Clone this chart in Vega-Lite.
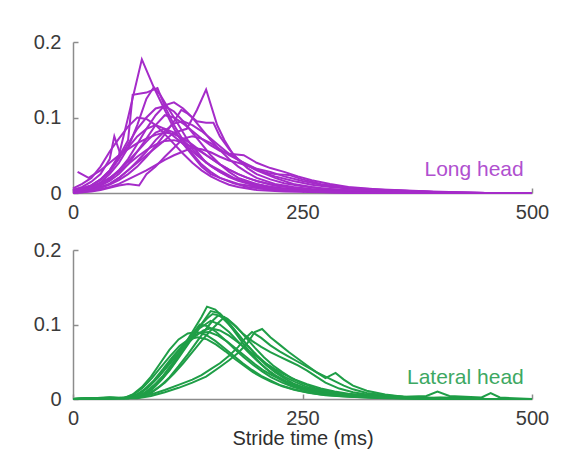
{
"$schema":"https://vega.github.io/schema/vega-lite/v6.json",
"padding":{"left":33,"top":32,"right":10,"bottom":10},
"spacing":18,
"config":{"view":{"stroke":null},"axis":{"grid":false,"domainColor":"#8c8c8c","tickColor":"#8c8c8c","domainWidth":1.5,"tickWidth":1.5,"labelColor":"#3a3a3a","labelFont":"Liberation Sans","labelFontSize":20,"tickSize":-5,"labelFlush":false,"labelOverlap":false,"titleFont":"Liberation Sans","titleFontSize":20,"titleFontWeight":"normal","titleColor":"#2e2e2e"},"axisY":{"labelPadding":17},"axisX":{"labelPadding":14}},
"datasets":{
"top":[
{"s":1,"x":0,"y":0.004},{"s":1,"x":10,"y":0.006},{"s":1,"x":20,"y":0.01},{"s":1,"x":30,"y":0.018},{"s":1,"x":40,"y":0.03},{"s":1,"x":50,"y":0.05},{"s":1,"x":60,"y":0.1},{"s":1,"x":75,"y":0.177},{"s":1,"x":88,"y":0.14},{"s":1,"x":100,"y":0.11},{"s":1,"x":110,"y":0.085},{"s":1,"x":120,"y":0.065},{"s":1,"x":130,"y":0.05},{"s":1,"x":140,"y":0.035},{"s":1,"x":150,"y":0.025},{"s":1,"x":160,"y":0.02},{"s":1,"x":180,"y":0.012},{"s":1,"x":200,"y":0.008},{"s":1,"x":220,"y":0.005},{"s":1,"x":250,"y":0.003},{"s":1,"x":280,"y":0.002},{"s":1,"x":320,"y":0.001},{"s":1,"x":360,"y":0},{"s":1,"x":500,"y":0},
{"s":2,"x":0,"y":0},{"s":2,"x":10,"y":0.002},{"s":2,"x":20,"y":0.004},{"s":2,"x":30,"y":0.008},{"s":2,"x":40,"y":0.012},{"s":2,"x":50,"y":0.02},{"s":2,"x":60,"y":0.03},{"s":2,"x":70,"y":0.04},{"s":2,"x":80,"y":0.05},{"s":2,"x":90,"y":0.06},{"s":2,"x":100,"y":0.07},{"s":2,"x":110,"y":0.08},{"s":2,"x":124,"y":0.085},{"s":2,"x":135,"y":0.11},{"s":2,"x":145,"y":0.137},{"s":2,"x":157,"y":0.09},{"s":2,"x":165,"y":0.07},{"s":2,"x":175,"y":0.05},{"s":2,"x":185,"y":0.04},{"s":2,"x":200,"y":0.03},{"s":2,"x":220,"y":0.02},{"s":2,"x":240,"y":0.012},{"s":2,"x":260,"y":0.008},{"s":2,"x":280,"y":0.005},{"s":2,"x":300,"y":0.003},{"s":2,"x":330,"y":0.002},{"s":2,"x":360,"y":0.001},{"s":2,"x":400,"y":0},{"s":2,"x":500,"y":0},
{"s":3,"x":0,"y":0.002},{"s":3,"x":10,"y":0.004},{"s":3,"x":20,"y":0.008},{"s":3,"x":30,"y":0.014},{"s":3,"x":40,"y":0.025},{"s":3,"x":50,"y":0.04},{"s":3,"x":60,"y":0.06},{"s":3,"x":70,"y":0.09},{"s":3,"x":80,"y":0.125},{"s":3,"x":88,"y":0.14},{"s":3,"x":95,"y":0.13},{"s":3,"x":105,"y":0.11},{"s":3,"x":115,"y":0.09},{"s":3,"x":125,"y":0.07},{"s":3,"x":135,"y":0.055},{"s":3,"x":145,"y":0.04},{"s":3,"x":160,"y":0.03},{"s":3,"x":175,"y":0.02},{"s":3,"x":190,"y":0.014},{"s":3,"x":210,"y":0.009},{"s":3,"x":230,"y":0.006},{"s":3,"x":260,"y":0.004},{"s":3,"x":300,"y":0.002},{"s":3,"x":350,"y":0.001},{"s":3,"x":400,"y":0},{"s":3,"x":500,"y":0},
{"s":4,"x":0,"y":0.001},{"s":4,"x":10,"y":0.003},{"s":4,"x":20,"y":0.006},{"s":4,"x":30,"y":0.01},{"s":4,"x":40,"y":0.018},{"s":4,"x":50,"y":0.03},{"s":4,"x":60,"y":0.045},{"s":4,"x":70,"y":0.065},{"s":4,"x":80,"y":0.085},{"s":4,"x":90,"y":0.103},{"s":4,"x":100,"y":0.116},{"s":4,"x":110,"y":0.12},{"s":4,"x":120,"y":0.112},{"s":4,"x":130,"y":0.1},{"s":4,"x":140,"y":0.085},{"s":4,"x":150,"y":0.07},{"s":4,"x":160,"y":0.057},{"s":4,"x":170,"y":0.045},{"s":4,"x":180,"y":0.035},{"s":4,"x":190,"y":0.027},{"s":4,"x":200,"y":0.02},{"s":4,"x":220,"y":0.012},{"s":4,"x":240,"y":0.008},{"s":4,"x":260,"y":0.005},{"s":4,"x":290,"y":0.003},{"s":4,"x":330,"y":0.001},{"s":4,"x":400,"y":0},{"s":4,"x":500,"y":0},
{"s":5,"x":0,"y":0.003},{"s":5,"x":10,"y":0.005},{"s":5,"x":20,"y":0.01},{"s":5,"x":30,"y":0.017},{"s":5,"x":40,"y":0.028},{"s":5,"x":50,"y":0.045},{"s":5,"x":60,"y":0.065},{"s":5,"x":70,"y":0.085},{"s":5,"x":80,"y":0.1},{"s":5,"x":90,"y":0.112},{"s":5,"x":100,"y":0.115},{"s":5,"x":110,"y":0.108},{"s":5,"x":120,"y":0.095},{"s":5,"x":130,"y":0.08},{"s":5,"x":140,"y":0.065},{"s":5,"x":150,"y":0.05},{"s":5,"x":160,"y":0.038},{"s":5,"x":170,"y":0.028},{"s":5,"x":180,"y":0.02},{"s":5,"x":200,"y":0.012},{"s":5,"x":220,"y":0.007},{"s":5,"x":240,"y":0.004},{"s":5,"x":270,"y":0.002},{"s":5,"x":300,"y":0.001},{"s":5,"x":350,"y":0},{"s":5,"x":500,"y":0},
{"s":6,"x":0,"y":0.002},{"s":6,"x":10,"y":0.003},{"s":6,"x":20,"y":0.006},{"s":6,"x":30,"y":0.01},{"s":6,"x":40,"y":0.016},{"s":6,"x":50,"y":0.025},{"s":6,"x":60,"y":0.038},{"s":6,"x":70,"y":0.055},{"s":6,"x":80,"y":0.072},{"s":6,"x":90,"y":0.09},{"s":6,"x":100,"y":0.103},{"s":6,"x":110,"y":0.1},{"s":6,"x":120,"y":0.092},{"s":6,"x":130,"y":0.082},{"s":6,"x":140,"y":0.072},{"s":6,"x":150,"y":0.063},{"s":6,"x":160,"y":0.056},{"s":6,"x":170,"y":0.052},{"s":6,"x":186,"y":0.05},{"s":6,"x":200,"y":0.04},{"s":6,"x":215,"y":0.033},{"s":6,"x":230,"y":0.028},{"s":6,"x":245,"y":0.022},{"s":6,"x":260,"y":0.017},{"s":6,"x":280,"y":0.012},{"s":6,"x":300,"y":0.008},{"s":6,"x":320,"y":0.006},{"s":6,"x":340,"y":0.004},{"s":6,"x":360,"y":0.003},{"s":6,"x":380,"y":0.002},{"s":6,"x":400,"y":0.001},{"s":6,"x":450,"y":0},{"s":6,"x":500,"y":0},
{"s":7,"x":0,"y":0.001},{"s":7,"x":10,"y":0.002},{"s":7,"x":20,"y":0.004},{"s":7,"x":30,"y":0.007},{"s":7,"x":40,"y":0.012},{"s":7,"x":50,"y":0.02},{"s":7,"x":60,"y":0.03},{"s":7,"x":70,"y":0.042},{"s":7,"x":80,"y":0.055},{"s":7,"x":90,"y":0.07},{"s":7,"x":100,"y":0.082},{"s":7,"x":110,"y":0.092},{"s":7,"x":120,"y":0.095},{"s":7,"x":130,"y":0.09},{"s":7,"x":140,"y":0.082},{"s":7,"x":150,"y":0.072},{"s":7,"x":160,"y":0.062},{"s":7,"x":170,"y":0.052},{"s":7,"x":180,"y":0.044},{"s":7,"x":190,"y":0.037},{"s":7,"x":200,"y":0.031},{"s":7,"x":210,"y":0.026},{"s":7,"x":220,"y":0.022},{"s":7,"x":240,"y":0.016},{"s":7,"x":260,"y":0.011},{"s":7,"x":280,"y":0.008},{"s":7,"x":300,"y":0.006},{"s":7,"x":320,"y":0.004},{"s":7,"x":350,"y":0.003},{"s":7,"x":380,"y":0.002},{"s":7,"x":400,"y":0.001},{"s":7,"x":450,"y":0},{"s":7,"x":500,"y":0},
{"s":8,"x":0,"y":0.004},{"s":8,"x":10,"y":0.008},{"s":8,"x":20,"y":0.015},{"s":8,"x":30,"y":0.025},{"s":8,"x":40,"y":0.045},{"s":8,"x":45,"y":0.075},{"s":8,"x":52,"y":0.05},{"s":8,"x":60,"y":0.06},{"s":8,"x":70,"y":0.075},{"s":8,"x":80,"y":0.085},{"s":8,"x":90,"y":0.09},{"s":8,"x":100,"y":0.085},{"s":8,"x":110,"y":0.075},{"s":8,"x":120,"y":0.065},{"s":8,"x":130,"y":0.055},{"s":8,"x":140,"y":0.045},{"s":8,"x":150,"y":0.036},{"s":8,"x":160,"y":0.028},{"s":8,"x":170,"y":0.022},{"s":8,"x":180,"y":0.017},{"s":8,"x":200,"y":0.01},{"s":8,"x":220,"y":0.006},{"s":8,"x":250,"y":0.003},{"s":8,"x":280,"y":0.002},{"s":8,"x":320,"y":0.001},{"s":8,"x":360,"y":0},{"s":8,"x":500,"y":0},
{"s":9,"x":5,"y":0.028},{"s":9,"x":17,"y":0.02},{"s":9,"x":30,"y":0.03},{"s":9,"x":40,"y":0.04},{"s":9,"x":50,"y":0.05},{"s":9,"x":60,"y":0.058},{"s":9,"x":70,"y":0.066},{"s":9,"x":80,"y":0.072},{"s":9,"x":90,"y":0.077},{"s":9,"x":100,"y":0.08},{"s":9,"x":110,"y":0.078},{"s":9,"x":120,"y":0.072},{"s":9,"x":130,"y":0.064},{"s":9,"x":140,"y":0.055},{"s":9,"x":150,"y":0.046},{"s":9,"x":160,"y":0.038},{"s":9,"x":170,"y":0.031},{"s":9,"x":180,"y":0.025},{"s":9,"x":190,"y":0.02},{"s":9,"x":200,"y":0.016},{"s":9,"x":220,"y":0.01},{"s":9,"x":240,"y":0.007},{"s":9,"x":260,"y":0.005},{"s":9,"x":280,"y":0.003},{"s":9,"x":300,"y":0.002},{"s":9,"x":340,"y":0.001},{"s":9,"x":400,"y":0},{"s":9,"x":500,"y":0},
{"s":10,"x":0,"y":0.006},{"s":10,"x":10,"y":0.012},{"s":10,"x":20,"y":0.02},{"s":10,"x":30,"y":0.035},{"s":10,"x":40,"y":0.055},{"s":10,"x":50,"y":0.072},{"s":10,"x":60,"y":0.088},{"s":10,"x":70,"y":0.1},{"s":10,"x":80,"y":0.098},{"s":10,"x":90,"y":0.09},{"s":10,"x":100,"y":0.078},{"s":10,"x":110,"y":0.065},{"s":10,"x":120,"y":0.052},{"s":10,"x":130,"y":0.04},{"s":10,"x":140,"y":0.03},{"s":10,"x":150,"y":0.022},{"s":10,"x":160,"y":0.016},{"s":10,"x":170,"y":0.011},{"s":10,"x":180,"y":0.008},{"s":10,"x":200,"y":0.004},{"s":10,"x":230,"y":0.002},{"s":10,"x":270,"y":0.001},{"s":10,"x":300,"y":0},{"s":10,"x":500,"y":0},
{"s":11,"x":0,"y":0},{"s":11,"x":10,"y":0.001},{"s":11,"x":20,"y":0.002},{"s":11,"x":30,"y":0.004},{"s":11,"x":40,"y":0.007},{"s":11,"x":50,"y":0.01},{"s":11,"x":60,"y":0.012},{"s":11,"x":72,"y":0.01},{"s":11,"x":80,"y":0.025},{"s":11,"x":90,"y":0.035},{"s":11,"x":100,"y":0.048},{"s":11,"x":110,"y":0.06},{"s":11,"x":120,"y":0.072},{"s":11,"x":130,"y":0.075},{"s":11,"x":140,"y":0.072},{"s":11,"x":150,"y":0.066},{"s":11,"x":160,"y":0.058},{"s":11,"x":170,"y":0.05},{"s":11,"x":180,"y":0.044},{"s":11,"x":190,"y":0.038},{"s":11,"x":200,"y":0.032},{"s":11,"x":210,"y":0.027},{"s":11,"x":220,"y":0.025},{"s":11,"x":235,"y":0.024},{"s":11,"x":250,"y":0.018},{"s":11,"x":270,"y":0.012},{"s":11,"x":290,"y":0.008},{"s":11,"x":310,"y":0.006},{"s":11,"x":330,"y":0.004},{"s":11,"x":360,"y":0.003},{"s":11,"x":380,"y":0.002},{"s":11,"x":400,"y":0.001},{"s":11,"x":450,"y":0},{"s":11,"x":500,"y":0},
{"s":12,"x":0,"y":0.002},{"s":12,"x":10,"y":0.004},{"s":12,"x":20,"y":0.008},{"s":12,"x":30,"y":0.013},{"s":12,"x":40,"y":0.02},{"s":12,"x":50,"y":0.028},{"s":12,"x":60,"y":0.038},{"s":12,"x":70,"y":0.048},{"s":12,"x":80,"y":0.057},{"s":12,"x":90,"y":0.064},{"s":12,"x":100,"y":0.069},{"s":12,"x":110,"y":0.07},{"s":12,"x":120,"y":0.067},{"s":12,"x":130,"y":0.061},{"s":12,"x":140,"y":0.054},{"s":12,"x":150,"y":0.046},{"s":12,"x":160,"y":0.038},{"s":12,"x":170,"y":0.031},{"s":12,"x":180,"y":0.025},{"s":12,"x":190,"y":0.02},{"s":12,"x":200,"y":0.016},{"s":12,"x":220,"y":0.01},{"s":12,"x":240,"y":0.007},{"s":12,"x":260,"y":0.004},{"s":12,"x":290,"y":0.002},{"s":12,"x":330,"y":0.001},{"s":12,"x":400,"y":0},{"s":12,"x":500,"y":0},
{"s":13,"x":0,"y":0},{"s":13,"x":10,"y":0.001},{"s":13,"x":20,"y":0.003},{"s":13,"x":30,"y":0.005},{"s":13,"x":40,"y":0.008},{"s":13,"x":50,"y":0.012},{"s":13,"x":60,"y":0.018},{"s":13,"x":70,"y":0.024},{"s":13,"x":80,"y":0.03},{"s":13,"x":90,"y":0.037},{"s":13,"x":100,"y":0.044},{"s":13,"x":110,"y":0.05},{"s":13,"x":120,"y":0.055},{"s":13,"x":130,"y":0.06},{"s":13,"x":140,"y":0.058},{"s":13,"x":150,"y":0.054},{"s":13,"x":160,"y":0.048},{"s":13,"x":170,"y":0.043},{"s":13,"x":180,"y":0.04},{"s":13,"x":190,"y":0.036},{"s":13,"x":200,"y":0.032},{"s":13,"x":215,"y":0.028},{"s":13,"x":230,"y":0.022},{"s":13,"x":250,"y":0.016},{"s":13,"x":270,"y":0.011},{"s":13,"x":290,"y":0.008},{"s":13,"x":310,"y":0.006},{"s":13,"x":330,"y":0.005},{"s":13,"x":350,"y":0.004},{"s":13,"x":370,"y":0.003},{"s":13,"x":390,"y":0.002},{"s":13,"x":420,"y":0.001},{"s":13,"x":450,"y":0},{"s":13,"x":500,"y":0},
{"s":14,"x":0,"y":0.003},{"s":14,"x":10,"y":0.006},{"s":14,"x":20,"y":0.01},{"s":14,"x":30,"y":0.018},{"s":14,"x":40,"y":0.03},{"s":14,"x":50,"y":0.048},{"s":14,"x":60,"y":0.07},{"s":14,"x":65,"y":0.13},{"s":14,"x":80,"y":0.133},{"s":14,"x":92,"y":0.139},{"s":14,"x":100,"y":0.115},{"s":14,"x":110,"y":0.09},{"s":14,"x":120,"y":0.07},{"s":14,"x":130,"y":0.052},{"s":14,"x":140,"y":0.038},{"s":14,"x":150,"y":0.028},{"s":14,"x":160,"y":0.02},{"s":14,"x":175,"y":0.013},{"s":14,"x":190,"y":0.008},{"s":14,"x":210,"y":0.005},{"s":14,"x":240,"y":0.003},{"s":14,"x":280,"y":0.001},{"s":14,"x":320,"y":0},{"s":14,"x":500,"y":0},
{"s":15,"x":0,"y":0.001},{"s":15,"x":10,"y":0.002},{"s":15,"x":20,"y":0.004},{"s":15,"x":30,"y":0.007},{"s":15,"x":40,"y":0.011},{"s":15,"x":50,"y":0.017},{"s":15,"x":60,"y":0.025},{"s":15,"x":70,"y":0.035},{"s":15,"x":80,"y":0.048},{"s":15,"x":90,"y":0.062},{"s":15,"x":100,"y":0.078},{"s":15,"x":110,"y":0.095},{"s":15,"x":118,"y":0.11},{"s":15,"x":125,"y":0.105},{"s":15,"x":135,"y":0.095},{"s":15,"x":145,"y":0.093},{"s":15,"x":153,"y":0.093},{"s":15,"x":160,"y":0.075},{"s":15,"x":170,"y":0.058},{"s":15,"x":180,"y":0.044},{"s":15,"x":190,"y":0.033},{"s":15,"x":200,"y":0.025},{"s":15,"x":215,"y":0.018},{"s":15,"x":230,"y":0.013},{"s":15,"x":250,"y":0.009},{"s":15,"x":270,"y":0.006},{"s":15,"x":300,"y":0.004},{"s":15,"x":340,"y":0.002},{"s":15,"x":380,"y":0.001},{"s":15,"x":420,"y":0},{"s":15,"x":500,"y":0},
{"s":16,"x":0,"y":0.002},{"s":16,"x":10,"y":0.004},{"s":16,"x":20,"y":0.007},{"s":16,"x":30,"y":0.012},{"s":16,"x":40,"y":0.02},{"s":16,"x":50,"y":0.03},{"s":16,"x":60,"y":0.042},{"s":16,"x":70,"y":0.055},{"s":16,"x":80,"y":0.068},{"s":16,"x":90,"y":0.08},{"s":16,"x":100,"y":0.085},{"s":16,"x":110,"y":0.08},{"s":16,"x":120,"y":0.07},{"s":16,"x":130,"y":0.058},{"s":16,"x":140,"y":0.046},{"s":16,"x":150,"y":0.036},{"s":16,"x":160,"y":0.028},{"s":16,"x":170,"y":0.021},{"s":16,"x":180,"y":0.016},{"s":16,"x":200,"y":0.009},{"s":16,"x":220,"y":0.005},{"s":16,"x":250,"y":0.003},{"s":16,"x":300,"y":0.001},{"s":16,"x":350,"y":0},{"s":16,"x":500,"y":0}
],
"bottom":[
{"s":1,"x":0,"y":0},{"s":1,"x":20,"y":0.001},{"s":1,"x":40,"y":0.002},{"s":1,"x":60,"y":0.001},{"s":1,"x":70,"y":0.003},{"s":1,"x":80,"y":0.01},{"s":1,"x":90,"y":0.02},{"s":1,"x":100,"y":0.033},{"s":1,"x":110,"y":0.05},{"s":1,"x":120,"y":0.07},{"s":1,"x":130,"y":0.09},{"s":1,"x":140,"y":0.11},{"s":1,"x":146,"y":0.124},{"s":1,"x":155,"y":0.12},{"s":1,"x":165,"y":0.108},{"s":1,"x":175,"y":0.092},{"s":1,"x":185,"y":0.075},{"s":1,"x":195,"y":0.06},{"s":1,"x":205,"y":0.047},{"s":1,"x":215,"y":0.036},{"s":1,"x":225,"y":0.027},{"s":1,"x":235,"y":0.02},{"s":1,"x":245,"y":0.015},{"s":1,"x":260,"y":0.01},{"s":1,"x":280,"y":0.006},{"s":1,"x":300,"y":0.004},{"s":1,"x":330,"y":0.002},{"s":1,"x":360,"y":0.001},{"s":1,"x":400,"y":0.001},{"s":1,"x":450,"y":0},{"s":1,"x":500,"y":0},
{"s":2,"x":0,"y":0},{"s":2,"x":20,"y":0},{"s":2,"x":40,"y":0.002},{"s":2,"x":60,"y":0.001},{"s":2,"x":75,"y":0.004},{"s":2,"x":85,"y":0.012},{"s":2,"x":95,"y":0.024},{"s":2,"x":105,"y":0.038},{"s":2,"x":115,"y":0.055},{"s":2,"x":125,"y":0.073},{"s":2,"x":135,"y":0.092},{"s":2,"x":143,"y":0.106},{"s":2,"x":150,"y":0.118},{"s":2,"x":160,"y":0.115},{"s":2,"x":170,"y":0.102},{"s":2,"x":180,"y":0.087},{"s":2,"x":190,"y":0.072},{"s":2,"x":200,"y":0.058},{"s":2,"x":210,"y":0.046},{"s":2,"x":220,"y":0.036},{"s":2,"x":230,"y":0.028},{"s":2,"x":240,"y":0.021},{"s":2,"x":255,"y":0.014},{"s":2,"x":270,"y":0.009},{"s":2,"x":290,"y":0.006},{"s":2,"x":310,"y":0.004},{"s":2,"x":340,"y":0.002},{"s":2,"x":370,"y":0.001},{"s":2,"x":400,"y":0.001},{"s":2,"x":450,"y":0},{"s":2,"x":500,"y":0},
{"s":3,"x":0,"y":0},{"s":3,"x":30,"y":0.001},{"s":3,"x":60,"y":0.001},{"s":3,"x":75,"y":0.003},{"s":3,"x":85,"y":0.008},{"s":3,"x":95,"y":0.017},{"s":3,"x":105,"y":0.029},{"s":3,"x":115,"y":0.044},{"s":3,"x":125,"y":0.06},{"s":3,"x":135,"y":0.077},{"s":3,"x":145,"y":0.094},{"s":3,"x":152,"y":0.105},{"s":3,"x":158,"y":0.112},{"s":3,"x":168,"y":0.108},{"s":3,"x":178,"y":0.097},{"s":3,"x":188,"y":0.083},{"s":3,"x":198,"y":0.069},{"s":3,"x":208,"y":0.056},{"s":3,"x":218,"y":0.045},{"s":3,"x":228,"y":0.036},{"s":3,"x":238,"y":0.028},{"s":3,"x":250,"y":0.021},{"s":3,"x":265,"y":0.014},{"s":3,"x":280,"y":0.01},{"s":3,"x":300,"y":0.006},{"s":3,"x":330,"y":0.003},{"s":3,"x":360,"y":0.002},{"s":3,"x":400,"y":0.001},{"s":3,"x":450,"y":0},{"s":3,"x":500,"y":0},
{"s":4,"x":0,"y":0},{"s":4,"x":40,"y":0.001},{"s":4,"x":65,"y":0.002},{"s":4,"x":78,"y":0.006},{"s":4,"x":88,"y":0.015},{"s":4,"x":98,"y":0.028},{"s":4,"x":108,"y":0.044},{"s":4,"x":118,"y":0.062},{"s":4,"x":128,"y":0.08},{"s":4,"x":138,"y":0.095},{"s":4,"x":150,"y":0.105},{"s":4,"x":160,"y":0.1},{"s":4,"x":170,"y":0.09},{"s":4,"x":180,"y":0.077},{"s":4,"x":190,"y":0.064},{"s":4,"x":200,"y":0.052},{"s":4,"x":210,"y":0.041},{"s":4,"x":220,"y":0.032},{"s":4,"x":232,"y":0.024},{"s":4,"x":245,"y":0.017},{"s":4,"x":260,"y":0.011},{"s":4,"x":280,"y":0.007},{"s":4,"x":300,"y":0.004},{"s":4,"x":330,"y":0.002},{"s":4,"x":370,"y":0.001},{"s":4,"x":400,"y":0},{"s":4,"x":500,"y":0},
{"s":5,"x":0,"y":0},{"s":5,"x":40,"y":0.001},{"s":5,"x":70,"y":0.002},{"s":5,"x":80,"y":0.006},{"s":5,"x":90,"y":0.013},{"s":5,"x":100,"y":0.022},{"s":5,"x":110,"y":0.034},{"s":5,"x":120,"y":0.048},{"s":5,"x":130,"y":0.063},{"s":5,"x":140,"y":0.078},{"s":5,"x":150,"y":0.092},{"s":5,"x":158,"y":0.102},{"s":5,"x":165,"y":0.11},{"s":5,"x":175,"y":0.1},{"s":5,"x":185,"y":0.088},{"s":5,"x":195,"y":0.078},{"s":5,"x":205,"y":0.07},{"s":5,"x":215,"y":0.063},{"s":5,"x":225,"y":0.057},{"s":5,"x":235,"y":0.051},{"s":5,"x":245,"y":0.045},{"s":5,"x":255,"y":0.038},{"s":5,"x":265,"y":0.03},{"s":5,"x":275,"y":0.022},{"s":5,"x":290,"y":0.014},{"s":5,"x":305,"y":0.009},{"s":5,"x":320,"y":0.006},{"s":5,"x":340,"y":0.004},{"s":5,"x":370,"y":0.002},{"s":5,"x":400,"y":0.001},{"s":5,"x":450,"y":0},{"s":5,"x":500,"y":0},
{"s":6,"x":0,"y":0},{"s":6,"x":20,"y":0.001},{"s":6,"x":40,"y":0.002},{"s":6,"x":55,"y":0.001},{"s":6,"x":65,"y":0.006},{"s":6,"x":75,"y":0.016},{"s":6,"x":85,"y":0.03},{"s":6,"x":95,"y":0.048},{"s":6,"x":105,"y":0.066},{"s":6,"x":115,"y":0.08},{"s":6,"x":125,"y":0.088},{"s":6,"x":135,"y":0.09},{"s":6,"x":145,"y":0.086},{"s":6,"x":155,"y":0.078},{"s":6,"x":165,"y":0.068},{"s":6,"x":175,"y":0.058},{"s":6,"x":185,"y":0.048},{"s":6,"x":195,"y":0.039},{"s":6,"x":205,"y":0.031},{"s":6,"x":215,"y":0.025},{"s":6,"x":225,"y":0.019},{"s":6,"x":240,"y":0.013},{"s":6,"x":255,"y":0.009},{"s":6,"x":270,"y":0.006},{"s":6,"x":290,"y":0.004},{"s":6,"x":320,"y":0.002},{"s":6,"x":360,"y":0.001},{"s":6,"x":400,"y":0.001},{"s":6,"x":450,"y":0},{"s":6,"x":500,"y":0},
{"s":7,"x":0,"y":0},{"s":7,"x":30,"y":0.001},{"s":7,"x":58,"y":0.001},{"s":7,"x":68,"y":0.005},{"s":7,"x":78,"y":0.013},{"s":7,"x":88,"y":0.025},{"s":7,"x":98,"y":0.04},{"s":7,"x":108,"y":0.056},{"s":7,"x":118,"y":0.07},{"s":7,"x":128,"y":0.082},{"s":7,"x":138,"y":0.089},{"s":7,"x":148,"y":0.09},{"s":7,"x":158,"y":0.085},{"s":7,"x":168,"y":0.077},{"s":7,"x":178,"y":0.067},{"s":7,"x":188,"y":0.057},{"s":7,"x":198,"y":0.047},{"s":7,"x":208,"y":0.038},{"s":7,"x":218,"y":0.031},{"s":7,"x":230,"y":0.024},{"s":7,"x":245,"y":0.017},{"s":7,"x":260,"y":0.012},{"s":7,"x":280,"y":0.008},{"s":7,"x":300,"y":0.005},{"s":7,"x":330,"y":0.003},{"s":7,"x":370,"y":0.001},{"s":7,"x":400,"y":0.002},{"s":7,"x":420,"y":0.001},{"s":7,"x":450,"y":0},{"s":7,"x":500,"y":0},
{"s":8,"x":0,"y":0},{"s":8,"x":40,"y":0.001},{"s":8,"x":62,"y":0.002},{"s":8,"x":72,"y":0.007},{"s":8,"x":82,"y":0.016},{"s":8,"x":92,"y":0.028},{"s":8,"x":102,"y":0.042},{"s":8,"x":112,"y":0.057},{"s":8,"x":122,"y":0.071},{"s":8,"x":132,"y":0.083},{"s":8,"x":142,"y":0.092},{"s":8,"x":150,"y":0.095},{"s":8,"x":160,"y":0.092},{"s":8,"x":170,"y":0.085},{"s":8,"x":180,"y":0.076},{"s":8,"x":190,"y":0.066},{"s":8,"x":200,"y":0.057},{"s":8,"x":210,"y":0.048},{"s":8,"x":220,"y":0.04},{"s":8,"x":230,"y":0.033},{"s":8,"x":242,"y":0.026},{"s":8,"x":255,"y":0.02},{"s":8,"x":270,"y":0.014},{"s":8,"x":285,"y":0.01},{"s":8,"x":300,"y":0.007},{"s":8,"x":330,"y":0.004},{"s":8,"x":360,"y":0.003},{"s":8,"x":385,"y":0.004},{"s":8,"x":397,"y":0.01},{"s":8,"x":410,"y":0.004},{"s":8,"x":445,"y":0.002},{"s":8,"x":455,"y":0.008},{"s":8,"x":465,"y":0.002},{"s":8,"x":500,"y":0},
{"s":9,"x":0,"y":0},{"s":9,"x":50,"y":0.001},{"s":9,"x":64,"y":0.002},{"s":9,"x":74,"y":0.008},{"s":9,"x":84,"y":0.018},{"s":9,"x":94,"y":0.031},{"s":9,"x":104,"y":0.047},{"s":9,"x":114,"y":0.063},{"s":9,"x":124,"y":0.078},{"s":9,"x":132,"y":0.09},{"s":9,"x":138,"y":0.1},{"s":9,"x":146,"y":0.098},{"s":9,"x":156,"y":0.09},{"s":9,"x":166,"y":0.079},{"s":9,"x":176,"y":0.067},{"s":9,"x":186,"y":0.056},{"s":9,"x":196,"y":0.046},{"s":9,"x":206,"y":0.037},{"s":9,"x":216,"y":0.029},{"s":9,"x":228,"y":0.022},{"s":9,"x":240,"y":0.016},{"s":9,"x":255,"y":0.011},{"s":9,"x":270,"y":0.008},{"s":9,"x":290,"y":0.005},{"s":9,"x":320,"y":0.003},{"s":9,"x":350,"y":0.002},{"s":9,"x":380,"y":0.001},{"s":9,"x":420,"y":0.002},{"s":9,"x":450,"y":0},{"s":9,"x":500,"y":0},
{"s":10,"x":0,"y":0},{"s":10,"x":40,"y":0.001},{"s":10,"x":70,"y":0.001},{"s":10,"x":85,"y":0.004},{"s":10,"x":100,"y":0.009},{"s":10,"x":115,"y":0.015},{"s":10,"x":130,"y":0.022},{"s":10,"x":145,"y":0.03},{"s":10,"x":160,"y":0.043},{"s":10,"x":170,"y":0.052},{"s":10,"x":180,"y":0.062},{"s":10,"x":190,"y":0.075},{"s":10,"x":198,"y":0.09},{"s":10,"x":206,"y":0.094},{"s":10,"x":215,"y":0.083},{"s":10,"x":225,"y":0.073},{"s":10,"x":235,"y":0.063},{"s":10,"x":245,"y":0.054},{"s":10,"x":255,"y":0.045},{"s":10,"x":265,"y":0.036},{"s":10,"x":275,"y":0.028},{"s":10,"x":286,"y":0.035},{"s":10,"x":295,"y":0.026},{"s":10,"x":305,"y":0.018},{"s":10,"x":320,"y":0.011},{"s":10,"x":340,"y":0.006},{"s":10,"x":360,"y":0.003},{"s":10,"x":400,"y":0.001},{"s":10,"x":450,"y":0},{"s":10,"x":500,"y":0},
{"s":11,"x":0,"y":0},{"s":11,"x":50,"y":0.001},{"s":11,"x":72,"y":0.002},{"s":11,"x":85,"y":0.006},{"s":11,"x":100,"y":0.012},{"s":11,"x":115,"y":0.019},{"s":11,"x":130,"y":0.026},{"s":11,"x":140,"y":0.032},{"s":11,"x":150,"y":0.04},{"s":11,"x":160,"y":0.048},{"s":11,"x":170,"y":0.058},{"s":11,"x":180,"y":0.07},{"s":11,"x":188,"y":0.082},{"s":11,"x":195,"y":0.09},{"s":11,"x":205,"y":0.082},{"s":11,"x":215,"y":0.072},{"s":11,"x":225,"y":0.064},{"s":11,"x":235,"y":0.057},{"s":11,"x":245,"y":0.05},{"s":11,"x":255,"y":0.043},{"s":11,"x":265,"y":0.036},{"s":11,"x":275,"y":0.03},{"s":11,"x":285,"y":0.024},{"s":11,"x":295,"y":0.018},{"s":11,"x":305,"y":0.013},{"s":11,"x":320,"y":0.008},{"s":11,"x":340,"y":0.005},{"s":11,"x":370,"y":0.002},{"s":11,"x":400,"y":0.001},{"s":11,"x":450,"y":0},{"s":11,"x":500,"y":0},
{"s":12,"x":0,"y":0},{"s":12,"x":30,"y":0.001},{"s":12,"x":56,"y":0.001},{"s":12,"x":66,"y":0.006},{"s":12,"x":76,"y":0.015},{"s":12,"x":86,"y":0.028},{"s":12,"x":96,"y":0.043},{"s":12,"x":106,"y":0.058},{"s":12,"x":116,"y":0.071},{"s":12,"x":126,"y":0.08},{"s":12,"x":136,"y":0.083},{"s":12,"x":146,"y":0.08},{"s":12,"x":156,"y":0.073},{"s":12,"x":166,"y":0.064},{"s":12,"x":176,"y":0.054},{"s":12,"x":186,"y":0.045},{"s":12,"x":196,"y":0.036},{"s":12,"x":206,"y":0.029},{"s":12,"x":216,"y":0.023},{"s":12,"x":228,"y":0.017},{"s":12,"x":242,"y":0.012},{"s":12,"x":258,"y":0.008},{"s":12,"x":275,"y":0.005},{"s":12,"x":300,"y":0.003},{"s":12,"x":340,"y":0.001},{"s":12,"x":400,"y":0},{"s":12,"x":500,"y":0},
{"s":13,"x":0,"y":0},{"s":13,"x":40,"y":0.001},{"s":13,"x":68,"y":0.002},{"s":13,"x":78,"y":0.008},{"s":13,"x":88,"y":0.018},{"s":13,"x":98,"y":0.031},{"s":13,"x":108,"y":0.047},{"s":13,"x":118,"y":0.064},{"s":13,"x":128,"y":0.082},{"s":13,"x":138,"y":0.098},{"s":13,"x":146,"y":0.108},{"s":13,"x":152,"y":0.114},{"s":13,"x":160,"y":0.112},{"s":13,"x":170,"y":0.1},{"s":13,"x":180,"y":0.086},{"s":13,"x":190,"y":0.072},{"s":13,"x":200,"y":0.059},{"s":13,"x":210,"y":0.048},{"s":13,"x":220,"y":0.038},{"s":13,"x":230,"y":0.03},{"s":13,"x":242,"y":0.023},{"s":13,"x":255,"y":0.016},{"s":13,"x":270,"y":0.011},{"s":13,"x":290,"y":0.007},{"s":13,"x":310,"y":0.004},{"s":13,"x":340,"y":0.002},{"s":13,"x":380,"y":0.001},{"s":13,"x":450,"y":0},{"s":13,"x":500,"y":0}
]},
"vconcat":[
{"width":459,"height":151,
"layer":[
{"data":{"name":"top"},"mark":{"type":"line","color":"#A52BC9","strokeWidth":2},
"encoding":{"x":{"field":"x","type":"quantitative","scale":{"domain":[0,500],"nice":false},"axis":{"values":[0,250,500],"title":null}},
"y":{"field":"y","type":"quantitative","scale":{"domain":[0,0.2],"nice":false},"axis":{"values":[0,0.1,0.2],"format":"~g","title":null}},
"detail":{"field":"s","type":"nominal"}}},
{"data":{"values":[{"label":"Long head"}]},"mark":{"type":"text","align":"right","baseline":"middle","font":"Liberation Sans","fontSize":21,"color":"#B050CF"},
"encoding":{"text":{"field":"label","type":"nominal"},"x":{"datum":491},"y":{"datum":0.03}}}
]},
{"width":459,"height":149,
"layer":[
{"data":{"name":"bottom"},"mark":{"type":"line","color":"#1F9E47","strokeWidth":2},
"encoding":{"x":{"field":"x","type":"quantitative","scale":{"domain":[0,500],"nice":false},"axis":{"values":[0,250,500],"title":"Stride time (ms)","titlePadding":0}},
"y":{"field":"y","type":"quantitative","scale":{"domain":[0,0.2],"nice":false},"axis":{"values":[0,0.1,0.2],"format":"~g","title":null}},
"detail":{"field":"s","type":"nominal"}}},
{"data":{"values":[{"label":"Lateral head"}]},"mark":{"type":"text","align":"right","baseline":"middle","font":"Liberation Sans","fontSize":21,"color":"#3DA862"},
"encoding":{"text":{"field":"label","type":"nominal"},"x":{"datum":491},"y":{"datum":0.028}}}
]}
]
}
